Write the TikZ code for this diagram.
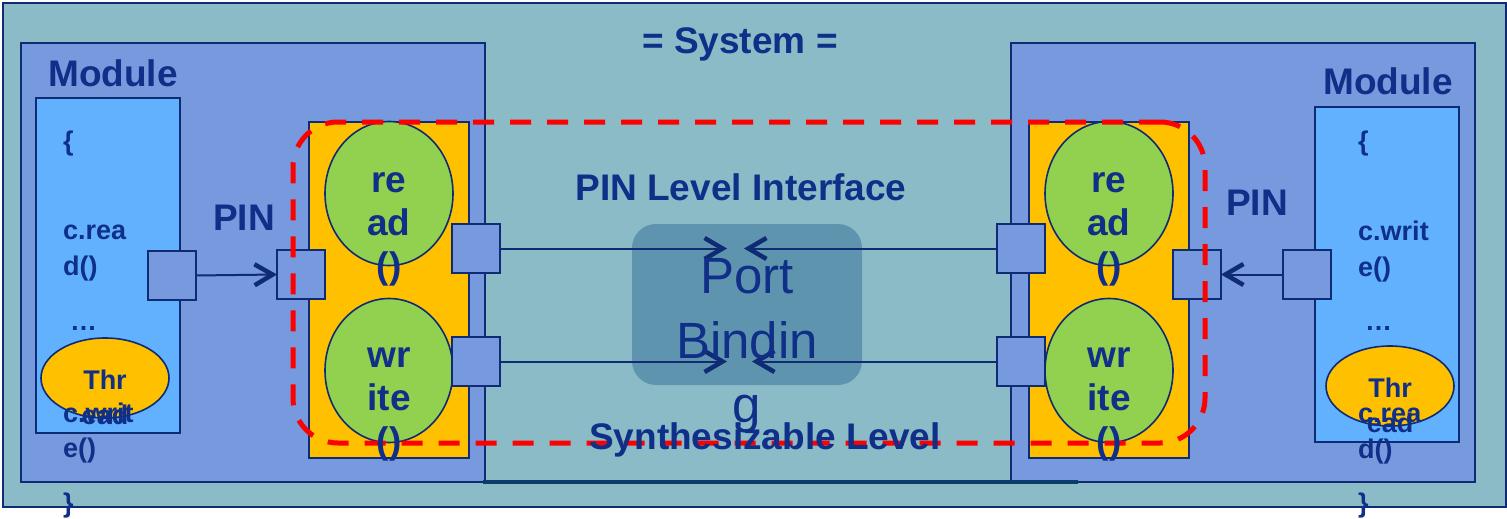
\documentclass[tikz,border=0pt]{standalone}
\usepackage{fontspec}
\setmainfont{Liberation Sans}
\usetikzlibrary{arrows.meta,shapes.geometric}

\definecolor{sysbg}{HTML}{8BBBC7}
\definecolor{modfill}{HTML}{7799DD}
\definecolor{codefill}{HTML}{61B1FF}
\definecolor{ifcol}{HTML}{FFC000}
\definecolor{grn}{HTML}{92D050}
\definecolor{bindfill}{HTML}{5F94AF}
\definecolor{navy}{HTML}{0E2B73}
\definecolor{txt}{HTML}{0F2F88}
\definecolor{barcol}{HTML}{0B3D6B}
\definecolor{zonered}{HTML}{FF0000}

\tikzset{
  blk/.style={draw=navy, line width=1.6pt, inner sep=0pt, outer sep=0pt, anchor=north west},
  port/.style={blk, fill=modfill, minimum width=48pt, minimum height=49pt},
  meth/.style={ellipse, draw=navy, line width=1.6pt, fill=grn, minimum width=128pt, minimum height=144pt, inner sep=0pt},
  thread/.style={ellipse, draw=navy, line width=1.6pt, fill=ifcol, minimum width=128pt, minimum height=80pt, inner sep=0pt},
  big/.style={text=txt, font=\bfseries\fontsize{37}{44}\selectfont, inner sep=0pt, anchor=base},
  code/.style={text=txt, font=\bfseries\fontsize{27}{32}\selectfont, inner sep=0pt, anchor=base west},
  codec/.style={code, anchor=base},
  bindtxt/.style={text=txt, font=\fontsize{51}{61}\selectfont, inner sep=0pt, anchor=base},
  wire/.style={draw=navy, line width=2pt, -{Straight Barb[length=18pt,width=21pt,line width'=4.5pt]}},
}

\begin{document}
\begin{tikzpicture}[x=1pt,y=-1pt]
\useasboundingbox (0,0) rectangle (1507,519);

% system frame and the two modules
\node[blk, fill=sysbg, minimum width=1503pt, minimum height=504pt] (sys) at (3,3) {};
\node[blk, fill=modfill, minimum width=464pt, minimum height=439pt] (modL) at (21,43) {};
\node[blk, fill=modfill, minimum width=464pt, minimum height=439pt] (modR) at (1011,43) {};
\coordinate (barA) at (483,482);
\coordinate (barB) at (1078,482);
\draw[barcol, line width=4pt] (barA) -- (barB);

% process bodies
\node[blk, fill=codefill, minimum width=144pt, minimum height=335pt] (codeL) at (36,98) {};
\node[blk, fill=codefill, minimum width=144pt, minimum height=335pt] (codeR) at (1315,107) {};

% interface blocks
\node[blk, fill=ifcol, minimum width=160pt, minimum height=336pt] (ifL) at (309,122) {};
\node[blk, fill=ifcol, minimum width=160pt, minimum height=336pt] (ifR) at (1029,122) {};

\node[meth] (readL) at (389,193.5) {};
\node[meth] (writeL) at (389,370.5) {};
\node[meth] (readR) at (1109,193.5) {};
\node[meth] (writeR) at (1109,370.5) {};

% port binding box
\node[blk, draw=none, fill=bindfill, rounded corners=24pt, minimum width=230pt, minimum height=161pt] (bind) at (632,224) {};

% ports
\node[port] (pcL) at (148,251) {};
\node[port] (piL) at (277,250) {};
\node[port] (prL) at (452,224) {};
\node[port] (pwL) at (452,337) {};
\node[port] (prR) at (997,224) {};
\node[port] (pwR) at (997,337) {};
\node[port] (piR) at (1173,250) {};
\node[port] (pcR) at (1283,250) {};

% thread ellipses
\node[thread] (thrL) at (105,378) {};
\node[thread] (thrR) at (1390,386) {};

% connections
\coordinate (tRL) at (727,248.5);
\coordinate (tRR) at (744,248.5);
\coordinate (tWL) at (727,361.5);
\coordinate (tWR) at (752,361.5);
\draw[wire] (pcL.east) -- (piL.west);
\draw[wire] (pcR.west) -- (piR.east);
\draw[wire] (prL.east) -- (tRL);
\draw[wire] (prR.west) -- (tRR);
\draw[wire] (pwL.east) -- (tWL);
\draw[wire] (pwR.west) -- (tWR);

% synthesizable zone
\node[blk, anchor=north west, draw=zonered, line width=5pt, dash pattern=on 21pt off 16pt, rounded corners=45pt, minimum width=912pt, minimum height=321pt] (zone) at (293,122) {};

% titles
\node[big] (sysT) at (740,53) {= System =};
\node[big, anchor=base west] (modLT) at (48,86) {Module};
\node[big, anchor=base west] (modRT) at (1323,94) {Module};
\node[big, anchor=base west] (pinL) at (213,230) {PIN};
\node[big, anchor=base west] (pinR) at (1226,215) {PIN};
\node[big] (pinT) at (741,200) {PIN Level Interface};
\node[big] (synT) at (765,449) {Synthesizable Level};

% method names
\node[big] (rL1) at (389,192) {re};
\node[big] (rL2) at (389,235) {ad};
\node[big] (rL3) at (389,278) {()};
\node[big] (wL1) at (389,367) {wr};
\node[big] (wL2) at (389,410) {ite};
\node[big] (wL3) at (389,453) {()};
\node[big] (rR1) at (1109,192) {re};
\node[big] (rR2) at (1109,235) {ad};
\node[big] (rR3) at (1109,278) {()};
\node[big] (wR1) at (1109,367) {wr};
\node[big] (wR2) at (1109,410) {ite};
\node[big] (wR3) at (1109,453) {()};

% left process code
\node[code] (cL1) at (63,150) {\{};
\node[code] (cL2) at (63,239) {c.rea};
\node[code] (cL3) at (63,275) {d()};
\node[code] (cL4) at (70,330) {…};
\node[code] (cL5) at (63,422) {c.writ};
\node[code] (cL6) at (63,457) {e()};
\node[code] (cL7) at (63,512) {\}};
\node[codec] (tL1) at (105,389) {Thr};
\node[codec] (tL2) at (105,424) {ead};

% right process code
\node[code] (cR1) at (1358,150) {\{};
\node[code] (cR2) at (1358,240) {c.writ};
\node[code] (cR3) at (1358,276) {e()};
\node[code] (cR4) at (1365,330) {…};
\node[codec] (tR1) at (1390,397) {Thr};
\node[codec] (tR2) at (1390,432) {ead};
\node[code] (cR5) at (1358,422) {c.rea};
\node[code] (cR6) at (1358,458) {d()};
\node[code] (cR7) at (1358,512) {\}};

% binding label
\node[bindtxt] (bT1) at (747,293) {Port};
\node[bindtxt] (bT2) at (747,358) {Bindin};
\node[bindtxt] (bT3) at (747,422) {g};
\end{tikzpicture}
\end{document}
